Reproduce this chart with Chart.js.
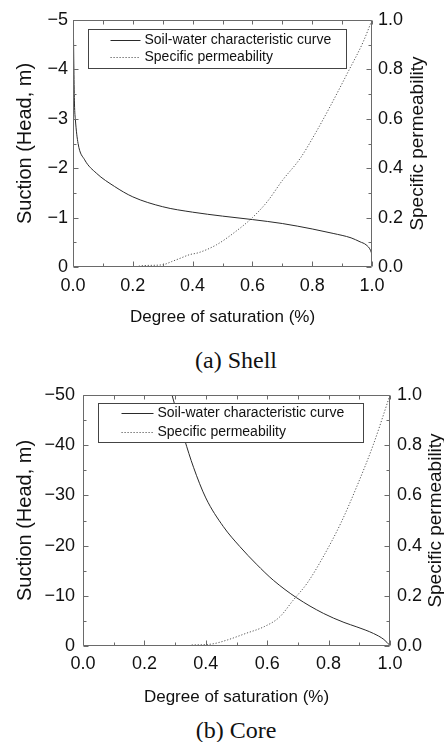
<!DOCTYPE html>
<html>
<head>
<meta charset="utf-8">
<script src="https://cdn.jsdelivr.net/npm/chart.js@4"></script>
<style>
  body { margin: 0; background: #fff; width: 444px; height: 742px; position: relative; overflow: hidden; }
  .panel { position: absolute; left: 0; }
  .panel canvas { display: block; }
  .caption { position: absolute; left: 0; width: 472px; text-align: center; line-height: 24px;
             font-family: "Liberation Serif", "Times New Roman", serif; font-size: 24px; color: #111; }
</style>
</head>
<body>
<div class="panel" style="top:0"><canvas id="shell" width="444" height="330"></canvas></div>
<div class="caption" style="top:348px">(a) Shell</div>
<div class="panel" style="top:370px"><canvas id="core" width="444" height="340"></canvas></div>
<div class="caption" style="top:718px">(b) Core</div>
<script>
// (a) Shell
const shellSat = [0.001, 0.003, 0.005, 0.008, 0.017, 0.039, 0.078, 0.139, 0.2, 0.3, 0.4, 0.5, 0.6, 0.7, 0.8, 0.87, 0.93, 0.96, 0.98, 0.995, 1.0];
const shellSuction = [-5, -4.0, -3.3, -2.98, -2.5, -2.17, -1.9, -1.63, -1.42, -1.22, -1.11, -1.03, -0.96, -0.88, -0.77, -0.68, -0.59, -0.51, -0.45, -0.34, -0.25];
const shellPermSat = [0.2, 0.24, 0.3, 0.33, 0.36, 0.39, 0.42, 0.48, 0.54, 0.6, 0.65, 0.7, 0.76, 0.81, 0.86, 0.92, 0.97, 1.0];
const shellPerm = [0, 0.006, 0.009, 0.022, 0.036, 0.05, 0.058, 0.09, 0.14, 0.2, 0.265, 0.35, 0.44, 0.54, 0.65, 0.79, 0.91, 1.0];

// (b) Core
const coreSat = [0.29, 0.33, 0.36, 0.40, 0.457, 0.511, 0.565, 0.62, 0.696, 0.783, 0.85, 0.892, 0.946, 0.98, 1.0];
const coreSuction = [-50, -41.3, -35.6, -29.5, -23.8, -19.8, -16.3, -13.1, -9.6, -6.5, -4.7, -3.8, -2.5, -1.3, -0.1];
const corePermSat = [0.354, 0.42, 0.47, 0.53, 0.59, 0.64, 0.685, 0.73, 0.78, 0.84, 0.89, 0.945, 1.0];
const corePerm = [0.004, 0.008, 0.024, 0.05, 0.077, 0.115, 0.183, 0.25, 0.35, 0.49, 0.63, 0.8, 1.0];

const seriesNames = ['Soil-water characteristic curve', 'Specific permeability'];
const xTitle = 'Degree of saturation (%)';
const leftTitle = 'Suction (Head, m)';
const rightTitle = 'Specific permeability';

const axisColor = '#6a6a6a';
const textColor = '#111';
Chart.defaults.font.family = "'Liberation Sans', Arial, sans-serif";

// frame with inward ticks on all four sides, boxed legend, right-hand title
const framePlugin = {
  id: 'frame',
  afterDraw(chart, args, o) {
    const { ctx, chartArea: a } = chart;
    const { x, y, y1 } = chart.scales;
    const L = Math.round(a.left) + 0.5, R = Math.round(a.right) - 0.5;
    const T = Math.round(a.top) + 0.5, B = Math.round(a.bottom) - 0.5;
    ctx.save();
    ctx.strokeStyle = axisColor;
    ctx.lineWidth = 1;
    ctx.beginPath();
    ctx.rect(L, T, R - L, B - T);
    for (let i = 0; i <= 10; i++) {
      const px = Math.round(x.getPixelForValue(i / 10)) + 0.5;
      const len = i % 2 === 0 ? 5 : 3;
      ctx.moveTo(px, B); ctx.lineTo(px, B - len);
      ctx.moveTo(px, T); ctx.lineTo(px, T + 4);
      const py = Math.round(y1.getPixelForValue(i / 10)) + 0.5;
      ctx.moveTo(R, py); ctx.lineTo(R - len, py);
    }
    const n = Math.round(-o.yMin / o.yMinor);
    for (let j = 0; j <= n; j++) {
      const py = Math.round(y.getPixelForValue(-j * o.yMinor)) + 0.5;
      const len = j % 2 === 0 ? 5 : 3;
      ctx.moveTo(L, py); ctx.lineTo(L + len, py);
    }
    ctx.stroke();

    // legend
    const lb = o.legend;
    const bx = Math.round(a.left) + lb.dx + 0.5, by = Math.round(a.top) + lb.dy + 0.5;
    ctx.fillStyle = '#fff';
    ctx.fillRect(bx, by, lb.w, lb.h);
    ctx.strokeStyle = '#444';
    ctx.strokeRect(bx, by, lb.w, lb.h);
    ctx.font = "14px 'Liberation Sans', Arial, sans-serif";
    ctx.textBaseline = 'middle';
    ctx.textAlign = 'left';
    chart.data.datasets.forEach((ds, i) => {
      const ry = by + lb.row0 + i * lb.rowGap;
      ctx.strokeStyle = ds.borderColor;
      ctx.setLineDash(ds.borderDash || []);
      ctx.beginPath();
      ctx.moveTo(bx + lb.line0, ry); ctx.lineTo(bx + lb.line1, ry);
      ctx.stroke();
      ctx.setLineDash([]);
      ctx.fillStyle = textColor;
      ctx.fillText(ds.label, bx + lb.text, ry);
    });

    // right axis title, reading bottom to top
    ctx.translate(o.rightTitleX, (a.top + a.bottom) / 2);
    ctx.rotate(-Math.PI / 2);
    ctx.textAlign = 'center';
    ctx.font = "19px 'Liberation Sans', Arial, sans-serif";
    ctx.fillText(rightTitle, 0, 0);
    ctx.restore();
  }
};

function makeChart(canvasId, sat, suction, permSat, perm, lay) {
  const swcc = sat.map((s, i) => ({ x: s, y: suction[i] }));
  const kr = permSat.map((s, i) => ({ x: s, y: perm[i] }));
  const tickFont = { size: 18 };
  return new Chart(document.getElementById(canvasId), {
    type: 'scatter',
    data: {
      datasets: [
        { label: seriesNames[0], data: swcc, yAxisID: 'y', showLine: true, borderColor: '#2a2a2a',
          borderWidth: 1, pointRadius: 0, cubicInterpolationMode: 'monotone' },
        { label: seriesNames[1], data: kr, yAxisID: 'y1', showLine: true, borderColor: '#555',
          borderWidth: 1, borderDash: [1.2, 1.8], pointRadius: 0, cubicInterpolationMode: 'monotone' }
      ]
    },
    options: {
      responsive: false,
      animation: false,
      devicePixelRatio: 1,
      layout: { padding: { top: lay.top, left: 0, right: 0, bottom: 0 } },
      plugins: { legend: { display: false }, tooltip: { enabled: false }, frame: lay },
      scales: {
        x: {
          type: 'linear', position: 'bottom', min: 0, max: 1,
          ticks: { stepSize: 0.2, callback: v => v.toFixed(1), font: tickFont, color: textColor, padding: lay.xPad, maxRotation: 0 },
          grid: { display: false, drawTicks: false }, border: { display: false },
          title: { display: true, text: xTitle, font: { size: 17 }, color: textColor, padding: { top: 0, bottom: 2 } },
          afterFit: s => { s.height = lay.bottomH; }
        },
        y: {
          type: 'linear', position: 'left', min: lay.yMin, max: 0, reverse: true,
          ticks: { stepSize: lay.yMajor, callback: v => v < 0 ? '\u2212' + Math.abs(v) : '0', font: tickFont, color: textColor, padding: lay.yPad },
          grid: { display: false, drawTicks: false }, border: { display: false },
          title: { display: true, text: leftTitle, font: { size: 20 }, color: textColor, padding: { top: 13, bottom: 0 } },
          afterFit: s => { s.width = lay.leftW; }
        },
        y1: {
          type: 'linear', position: 'right', min: 0, max: 1,
          ticks: { stepSize: 0.2, callback: v => v.toFixed(1), font: tickFont, color: textColor, padding: lay.y1Pad },
          grid: { display: false, drawTicks: false }, border: { display: false },
          afterFit: s => { s.width = lay.rightW; }
        }
      }
    },
    plugins: [framePlugin]
  });
}

makeChart('shell', shellSat, shellSuction, shellPermSat, shellPerm, {
  top: 20, leftW: 73, rightW: 72, bottomH: 63, xPad: 8, yPad: 5, y1Pad: 6,
  yMin: -5, yMajor: 1, yMinor: 0.5, rightTitleX: 418,
  legend: { dx: 15, dy: 9, w: 258, h: 39, row0: 11, rowGap: 17, line0: 22, line1: 52, text: 56 }
});

makeChart('core', coreSat, coreSuction, corePermSat, corePerm, {
  top: 25, leftW: 83, rightW: 54, bottomH: 64, xPad: 7, yPad: 8, y1Pad: 7,
  yMin: -50, yMajor: 10, yMinor: 5, rightTitleX: 436,
  legend: { dx: 15, dy: 8, w: 265, h: 39, row0: 10, rowGap: 19, line0: 23, line1: 55, text: 59 }
});
</script>
</body>
</html>
